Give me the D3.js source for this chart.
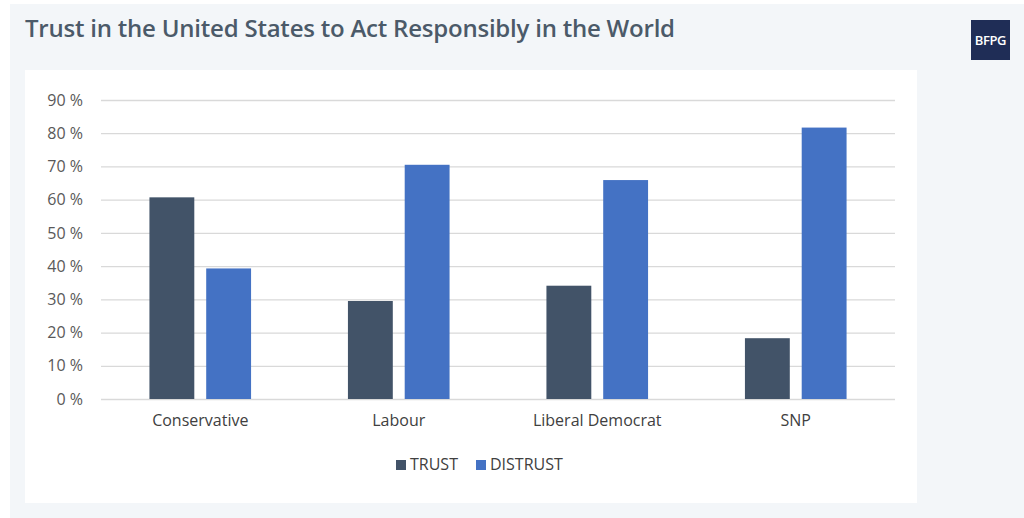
<!DOCTYPE html>
<html><head><meta charset="utf-8">
<script src="https://cdn.jsdelivr.net/npm/d3@7/dist/d3.min.js"></script>
<style>
html,body{margin:0;padding:0;background:#fff;}
svg{display:block;}
</style></head>
<body>
<svg id="chart" width="1024" height="518"></svg>
<script>
const categories = ["Conservative", "Labour", "Liberal Democrat", "SNP"];
const seriesNames = ["TRUST", "DISTRUST"];
const trustValues = [60.7, 29.5, 34.1, 18.3];
const distrustValues = [39.3, 70.5, 65.9, 81.7];
const yTicks = [0, 10, 20, 30, 40, 50, 60, 70, 80, 90];
const colors = ["#425368", "#4472c4"];

const svg = d3.select("#chart");
const W = 1024, H = 518;

// page background
svg.append("rect").attr("x", 10).attr("y", 4).attr("width", W - 10).attr("height", H - 4).attr("fill", "#f3f6f9");
// card
svg.append("rect").attr("x", 25).attr("y", 70).attr("width", 892).attr("height", 433).attr("fill", "#ffffff");

// title
svg.append("text").attr("x", 25).attr("y", 37)
  .attr("font-family", "'Open Sans', sans-serif").attr("font-size", 24).attr("font-weight", 600)
  .attr("fill", "#4b5a69").attr("letter-spacing", -0.22)
  .text("Trust in the United States to Act Responsibly in the World");

// logo
svg.append("rect").attr("x", 971).attr("y", 20).attr("width", 39).attr("height", 40).attr("fill", "#1f2d56");
svg.append("text").attr("x", 990.5).attr("y", 45).attr("text-anchor", "middle")
  .attr("font-family", "'Open Sans', sans-serif").attr("font-size", 13).attr("font-weight", 600)
  .attr("letter-spacing", -0.4)
  .attr("fill", "#ffffff").text("BFPG");

const plot = {left: 101, right: 895, top: 100, bottom: 399};
const x = d3.scaleBand().domain(categories).range([plot.left, plot.right]).paddingInner(0).paddingOuter(0);
const y = d3.scaleLinear().domain([0, 90]).range([plot.bottom, plot.top]);

// gridlines
const yAxis = d3.axisLeft(y).tickValues(yTicks).tickSize(-(plot.right - plot.left)).tickFormat(d => d + " %").tickPadding(18);
const gy = svg.append("g").attr("transform", `translate(${plot.left},0)`).call(yAxis);
gy.select(".domain").remove();
gy.selectAll(".tick line").attr("stroke", "#d9d9d9").attr("stroke-width", 1.3);
gy.selectAll(".tick text").attr("font-family", "'Open Sans', sans-serif").attr("font-size", 16).attr("fill", "#595959");

// bars
const bw = x.bandwidth() * 0.226;
const gap = x.bandwidth() * 0.06;
const x1 = d3.scaleOrdinal().domain(seriesNames).range([-(gap / 2 + bw), gap / 2]);
const data = categories.map((c, i) => ({cat: c, vals: [trustValues[i], distrustValues[i]]}));
const groups = svg.append("g").selectAll("g").data(data).join("g")
  .attr("transform", d => `translate(${x(d.cat) + x.bandwidth() / 2},0)`);
groups.selectAll("rect").data(d => d.vals.map((v, j) => ({s: seriesNames[j], v, j}))).join("rect")
  .attr("x", d => x1(d.s)).attr("width", bw)
  .attr("y", d => y(d.v)).attr("height", d => y(0) - y(d.v))
  .attr("fill", d => colors[d.j]);

// x labels
const xAxis = d3.axisBottom(x).tickSize(0).tickPadding(16);
const gx = svg.append("g").attr("transform", `translate(0,${plot.bottom})`).call(xAxis);
gx.select(".domain").remove();
gx.selectAll(".tick text").attr("font-family", "'Open Sans', sans-serif").attr("font-size", 16).attr("fill", "#404040");

// legend
const legendX = [396, 476];
const lg = svg.append("g").selectAll("g").data(seriesNames).join("g")
  .attr("transform", (d, i) => `translate(${legendX[i]},460)`);
lg.append("rect").attr("width", 10).attr("height", 10).attr("fill", (d, i) => colors[i]);
lg.append("text").attr("x", 14).attr("y", 10)
  .attr("font-family", "'Open Sans', sans-serif").attr("font-size", 16).attr("fill", "#404040").text(d => d);
</script>
</body></html>
